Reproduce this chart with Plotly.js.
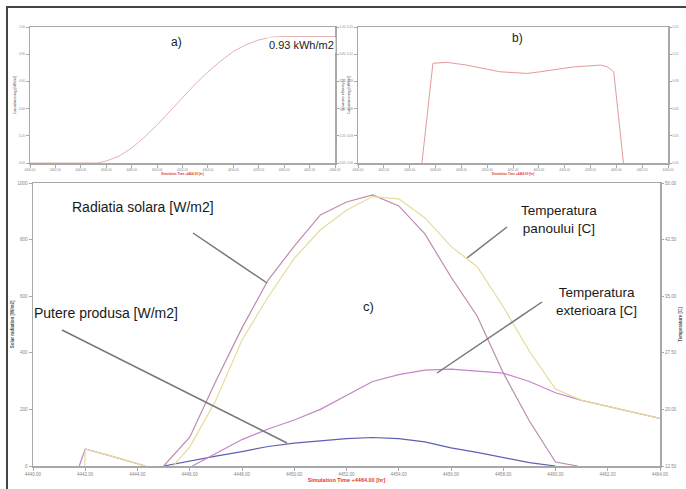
<!DOCTYPE html>
<html>
<head>
<meta charset="utf-8">
<script src="https://cdn.plot.ly/plotly-3.0.1.min.js"></script>
<style>html,body{margin:0;padding:0;background:#fff;}#chart{width:686px;height:489px;}</style>
</head>
<body>
<div id="chart"></div>
<script>
// ---- data ----
// a) cumulative produced energy [kWh/m2]
var energyTime = [4440, 4441, 4442, 4443, 4444, 4445, 4445.3, 4446, 4447, 4448, 4449, 4450, 4451, 4452, 4453, 4454, 4455, 4456, 4457, 4458, 4459, 4460, 4461, 4462, 4463, 4464];
var energyVal  = [0, 0, 0, 0, 0, 0, 0, 0.015, 0.05, 0.11, 0.19, 0.28, 0.38, 0.48, 0.58, 0.67, 0.75, 0.82, 0.87, 0.905, 0.925, 0.93, 0.93, 0.93, 0.93, 0.93];
// b) conversion efficiency [-]
var effTime = [4444.95, 4445.8, 4446.9, 4448.4, 4451.0, 4453.1, 4454.1, 4456.7, 4458.8, 4459.3, 4459.8, 4460.55];
var effVal  = [0, 0.110, 0.111, 0.108, 0.1006, 0.0988, 0.1006, 0.106, 0.108, 0.106, 0.1006, 0];
// c) solar radiation [W/m2]
var radTime = [4445, 4446, 4447, 4448, 4449, 4450, 4451, 4452, 4453, 4454, 4455, 4456, 4457, 4458, 4459, 4460, 4460.85];
var radVal  = [0, 102, 300, 488, 657, 777, 887, 933, 958, 919, 820, 668, 530, 329, 159, 14, 0];
// c) produced power [W/m2]
var powTime = [4445, 4446, 4447, 4448, 4449, 4450, 4451, 4452, 4453, 4454, 4455, 4456, 4457, 4458, 4459, 4460];
var powVal  = [0, 18, 35, 51, 69, 81, 90, 97, 100.7, 97, 85, 64, 48, 30, 12, 0];
// c) exterior temperature [C]
var extTime = [4441.77, 4442, 4443, 4444, 4444.3, null, 4446.1, 4447, 4448, 4449, 4450, 4451, 4452, 4453, 4454, 4455, 4456, 4457, 4458, 4459, 4460, 4461, 4462, 4463, 4464];
var extVal  = [12.5, 14.75, 13.8, 12.8, 12.5, null, 12.5, 14.2, 16.0, 17.4, 18.6, 20.0, 21.8, 23.7, 24.6, 25.2, 25.35, 25.1, 24.8, 23.7, 22.2, 21.2, 20.4, 19.6, 18.8];
// c) panel temperature [C]
var panTime = [4441.98, 4442, 4443, 4444, 4444.3, null, 4445.36, 4446, 4447, 4448, 4449, 4450, 4451, 4452, 4453, 4454, 4455, 4456, 4457, 4458, 4459, 4460, 4461, 4462, 4463, 4464];
var panVal  = [12.5, 14.75, 13.8, 12.8, 12.5, null, 12.5, 15.0, 21.2, 29.2, 34.9, 40.0, 43.8, 46.4, 48.2, 47.9, 45.4, 41.6, 38.9, 33.6, 27.7, 22.7, 21.2, 20.4, 19.6, 18.8];

var timeTicks = [4440, 4442, 4444, 4446, 4448, 4450, 4452, 4454, 4456, 4458, 4460, 4462, 4464];
var xTitle = 'Simulation Time +4464.00 [hr]';

// ---- helpers for layout positions (pixels -> paper) ----
var W = 686, H = 489;
function X(p){ return p / W; }
function Y(p){ return 1 - p / H; }

var FONT = 'Liberation Sans, Arial, sans-serif';
var axisGrey = '#a8a8a8';

function xAx(dom, anchor, fs, tfs){
  return {domain: dom, anchor: anchor, range: [4440, 4464], tickvals: timeTicks, tickformat: '.2f',
    ticks: 'outside', ticklen: 3, tickcolor: axisGrey, showline: true, linecolor: axisGrey, linewidth: 1.5,
    mirror: true, showgrid: false, zeroline: false, tickfont: {size: fs, color: '#888', family: FONT},
    title: {text: '<b>' + xTitle + '</b>', font: {size: tfs, color: '#e03a2a', family: FONT}, standoff: 2}};
}
function yAx(dom, anchor, range, dtick, fmt, fs, title, tfs){
  return {domain: dom, anchor: anchor, range: range, dtick: dtick, tick0: range[0], tickformat: fmt,
    ticks: 'outside', ticklen: 3, tickcolor: axisGrey, showline: true, linecolor: axisGrey, linewidth: 1.5,
    mirror: true, showgrid: false, zeroline: false, tickfont: {size: fs, color: '#888', family: FONT},
    title: {text: title, font: {size: tfs, color: '#555', family: FONT}, standoff: 3}};
}
function yRight(over, anchor, range, dtick, fmt, fs, title, tfs){
  return {overlaying: over, anchor: anchor, side: 'right', range: range, dtick: dtick, tick0: range[0], tickformat: fmt,
    ticks: 'outside', ticklen: 3, tickcolor: axisGrey, showline: false, showgrid: false, zeroline: false,
    tickfont: {size: fs, color: '#888', family: FONT},
    title: {text: title, font: {size: tfs, color: '#555', family: FONT}, standoff: 3}};
}

var domA = [X(30), X(335)], domB = [X(358), X(668)], domTop = [Y(163), Y(27)];
var domC = [X(33), X(660)], domCy = [Y(466), Y(183)];

var traces = [
  {x: energyTime, y: energyVal, xaxis: 'x', yaxis: 'y', mode: 'lines', line: {color: '#e6b0b0', width: 1}, hoverinfo: 'skip'},
  {x: energyTime, y: energyVal, xaxis: 'x', yaxis: 'y2', mode: 'lines', line: {color: 'rgba(0,0,0,0)', width: 0}, hoverinfo: 'skip'},
  {x: effTime, y: effVal, xaxis: 'x2', yaxis: 'y3', mode: 'lines', line: {color: '#e49a9a', width: 1}, hoverinfo: 'skip'},
  {x: effTime, y: effVal, xaxis: 'x2', yaxis: 'y4', mode: 'lines', line: {color: 'rgba(0,0,0,0)', width: 0}, hoverinfo: 'skip'},
  {x: extTime, y: extVal, xaxis: 'x3', yaxis: 'y6', mode: 'lines', line: {color: '#c486c8', width: 1.2}, connectgaps: false},
  {x: powTime, y: powVal, xaxis: 'x3', yaxis: 'y5', mode: 'lines', line: {color: '#5e60b4', width: 1.2}},
  {x: radTime, y: radVal, xaxis: 'x3', yaxis: 'y5', mode: 'lines', line: {color: '#bc8cae', width: 1.2}},
  {x: panTime, y: panVal, xaxis: 'x3', yaxis: 'y6', mode: 'lines', line: {color: '#e6dc98', width: 1.2}, connectgaps: false}
];

function ann(px, py, text, size, extra){
  var a = {xref: 'paper', yref: 'paper', x: X(px), y: Y(py), xanchor: 'center', yanchor: 'middle',
    text: text, showarrow: false, align: 'center', font: {family: FONT, size: size, color: '#1a1a1a'}};
  if (extra) for (var k in extra) a[k] = extra[k];
  return a;
}
function seg(x0, y0, x1, y1){
  return {type: 'line', xref: 'paper', yref: 'paper', x0: X(x0), y0: Y(y0), x1: X(x1), y1: Y(y1), line: {color: '#777', width: 1.5}};
}

var layout = {
  width: W, height: H, margin: {l: 0, r: 0, t: 0, b: 0},
  paper_bgcolor: '#ffffff', plot_bgcolor: '#ffffff', showlegend: false,
  xaxis: xAx(domA, 'y', 3, 3),
  yaxis: yAx(domTop, 'x', [0, 1], 0.2, '.2f', 3, 'Cumulative energy [kWh/m2]', 3),
  yaxis2: yRight('y', 'x', [0, 1], 0.2, '.2f', 3, 'Cumulative energy [kWh/m2]', 3),
  xaxis2: xAx(domB, 'y3', 3, 3),
  yaxis3: yAx(domTop, 'x2', [0, 0.15], 0.03, '.2f', 3, 'Conversion efficiency [-]', 3),
  yaxis4: yRight('y3', 'x2', [0, 0.15], 0.03, '.2f', 3, '', 3),
  xaxis3: xAx(domC, 'y5', 4.5, 5.5),
  yaxis5: yAx(domCy, 'x3', [0, 1000], 200, 'd', 4.5, '<b>Solar radiation [W/m2]</b>', 4.5),
  yaxis6: yRight('y5', 'x3', [12.5, 50], 7.5, '.2f', 4.5, '<b>Temperature [C]</b>', 4.5),
  shapes: [
    {type: 'path', xref: 'paper', yref: 'paper', path: 'M ' + X(7) + ' ' + Y(489) + ' L ' + X(7) + ' ' + Y(7) + ' L ' + X(686) + ' ' + Y(7),
      line: {color: '#444', width: 2}},
    seg(193, 233, 267, 283),
    seg(62, 330, 287, 443),
    seg(507, 227, 467, 258),
    seg(542, 302, 437, 373)
  ],
  annotations: [
    ann(176, 42, 'a)', 12),
    ann(517, 38, 'b)', 12),
    ann(301, 45, '0.93 kWh/m2', 11, {bgcolor: '#ffffff'}),
    ann(143, 207, 'Radiatia solara [W/m2]', 14),
    ann(106, 313, 'Putere produsa [W/m2]', 14),
    ann(369, 306, 'c)', 13),
    ann(559, 220, 'Temperatura<br>panoului [C]', 13.5),
    ann(596, 301, 'Temperatura<br>exterioara [C]', 13.5)
  ]
};

Plotly.newPlot('chart', traces, layout, {staticPlot: true, displayModeBar: false});
</script>
</body>
</html>
